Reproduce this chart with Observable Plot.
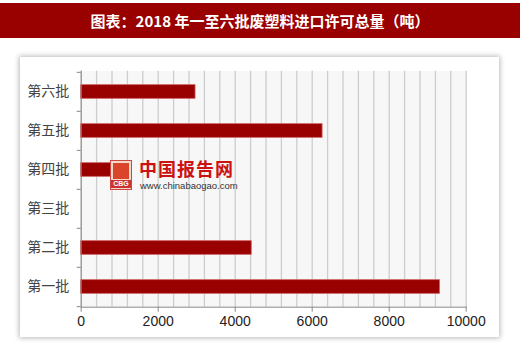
<!DOCTYPE html>
<html>
<head>
<meta charset="utf-8">
<script src="https://cdn.jsdelivr.net/npm/d3@7"></script>
<script src="https://cdn.jsdelivr.net/npm/@observablehq/plot@0.6"></script>
<style>
  html, body { margin: 0; padding: 0; background: #fff; }
  #wrap { position: relative; width: 520px; height: 344px; overflow: hidden; }
  #title {
    position: absolute; left: 0; top: 3px; width: 520px; height: 35px;
    background: #990000; color: #fff; text-align: center;
    font: 700 15px "Noto Sans CJK SC", sans-serif; line-height: 35px;
  }
  #panel {
    position: absolute; left: 20px; top: 57px; width: 479px; height: 280px;
    background: #fff; box-shadow: 0 0 5px 1px rgba(0,0,0,0.28);
  }
  #chart { position: absolute; left: 0; top: 0; }
  #logo {
    position: absolute; left: 110px; top: 160px; width: 22px; height: 30px;
    background: #f2d9c8; border: 1px solid #c44; box-sizing: border-box;
    font: 700 7px "Liberation Sans", sans-serif; color: #fff; text-align: center;
  }
  #logo .sq { position: absolute; left: 2px; top: 2px; width: 16px; height: 16px; background: #d9442a; }
  #logo .t { position: absolute; left: 0; width: 20px; bottom: 1px; background: #c33; line-height: 8px; }
  #wm1 {
    position: absolute; left: 139px; top: 159px;
    font: 700 18px "Noto Sans CJK SC", sans-serif; color: #cc1111; letter-spacing: 1px; line-height: 19px;
  }
  #wm2 {
    position: absolute; left: 140px; top: 180px;
    font: 400 9.5px "Liberation Sans", sans-serif; color: #333; line-height: 11px;
  }
</style>
</head>
<body>
<div id="wrap">
  <div id="title">图表：2018 年一至六批废塑料进口许可总量（吨）</div>
  <div id="panel"></div>
  <div id="chart"></div>
  <div id="logo"><div class="sq"></div><div class="t">CBG</div></div>
  <div id="wm1">中国报告网</div>
  <div id="wm2">www.chinabaogao.com</div>
</div>
<script>
const categories = ["第六批", "第五批", "第四批", "第三批", "第二批", "第一批"];
const values = [2970, 6270, 1000, 0, 4430, 9320];
const xTicks = [0, 2000, 4000, 6000, 8000, 10000];
const gridTicks = d3.range(0, 10001, 400);

const data = categories.map((c, i) => ({batch: c, value: values[i]}));

const W = 520, H = 344;
const mTop = 70.7, mBottom = 37.3, mLeft = 80.7, mRight = 54.3;
const step = (H - mTop - mBottom) / categories.length;
const barH = 14;
const inset = (step - barH) / 2;

const chart = Plot.plot({
  width: W,
  height: H,
  marginTop: mTop,
  marginBottom: mBottom,
  marginLeft: mLeft,
  marginRight: mRight,
  style: {background: "transparent", fontFamily: "Liberation Sans, sans-serif"},
  x: {domain: [0, 10000], label: null},
  y: {domain: categories, padding: 0, label: null},
  marks: [
    Plot.frame({fill: "#f7f7f7", stroke: null}),
    Plot.ruleX(gridTicks, {stroke: "#cdcdcd", strokeWidth: 1.3}),
    Plot.barX(data, {x: "value", y: "batch", fill: "#990000", stroke: "#d06060", strokeWidth: 0.8, insetTop: inset, insetBottom: inset}),
    Plot.ruleX([0], {stroke: "#888", strokeWidth: 1}),
    Plot.frame({anchor: "bottom", stroke: "#888"}),
    Plot.axisX({ticks: xTicks, tickSize: 5, tickPadding: 4, stroke: "#888", fill: "#222", fontSize: 14, label: null, tickFormat: d => String(d)}),
    Plot.axisY({tickSize: 0, tickPadding: 12, fill: "#444", fontSize: 14, label: null, fontFamily: "Noto Sans CJK SC, sans-serif"}),
    Plot.axisY({tickSize: 4, tickFormat: () => "", label: null, stroke: "#888", dy: -step / 2}),
    Plot.axisY({ticks: [categories[categories.length - 1]], tickSize: 4, tickFormat: () => "", label: null, stroke: "#888", dy: step / 2})
  ]
});
document.getElementById("chart").appendChild(chart);
</script>
</body>
</html>
